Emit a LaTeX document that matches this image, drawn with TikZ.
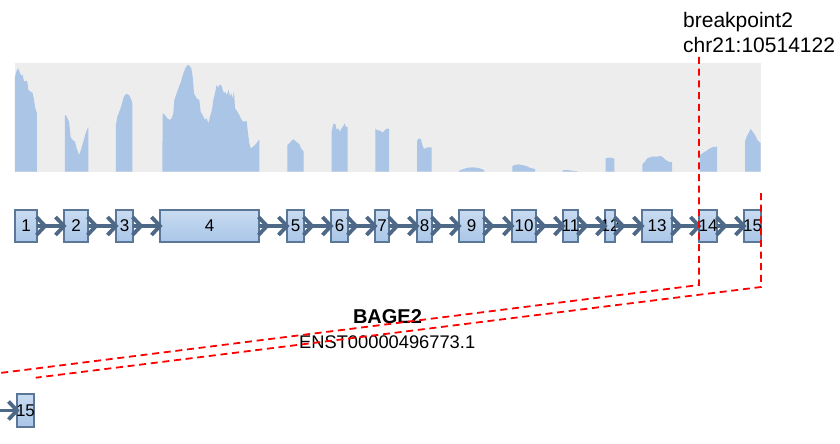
\documentclass[tikz,border=0pt]{standalone}
\usepackage{fontspec}
\setmainfont{Liberation Sans}
\usetikzlibrary{calc}
\definecolor{covbg}{HTML}{EDEDED}
\definecolor{covfill}{HTML}{AAC5E5}
\definecolor{intronc}{HTML}{4E6887}
\definecolor{exonborder}{HTML}{5A7797}
\definecolor{exontop}{HTML}{C9DCF1}
\definecolor{exonbot}{HTML}{A9C5E7}
\definecolor{bpred}{HTML}{FF0000}
\newcommand\exonbox[4]{\node[exon, minimum width=#3pt, label={[exlab]center:#4}] (#1) at (#2,226) {};}
\begin{document}
\begin{tikzpicture}[x=1pt,y=-1pt,
 exon/.style={draw=exonborder, line width=1.3pt, top color=exontop, bottom color=exonbot, minimum height=32pt, inner sep=0pt, outer sep=0pt},
 exlab/.style={font=\fontsize{17}{20}\selectfont, inner sep=0pt, text=black},
 intron/.style={draw=intronc, line width=3.2pt},
 chevline/.style={draw=intronc, line width=3.8pt, line join=miter, line cap=butt},
 chev/.pic={\draw[chevline] (-8.5,-9) -- (0,0) -- (-8.5,9);},
 bpline/.style={draw=bpred, line width=1.8pt, dash pattern=on 7pt off 4.7pt},
 cov/.style={fill=covfill, draw=none},
 lbl/.style={inner sep=0pt, text=black}
]
\useasboundingbox (0,0) rectangle (840,444);
% coverage background
\fill[covbg] (15,62.7) rectangle (760.7,171.7);
% coverage, zoom-1 coordinates
\begin{scope}[shift={(0,50)},scale=1/3]
\fill[cov] (45,365) -- (45,80) -- (50,62) -- (55,55) -- (60,70) -- (65,78) -- (68,75) -- (72,95) -- (78,92) -- (82,95) -- (85,120) -- (92,125) -- (98,130) -- (102,150) -- (106,175) -- (111,190) -- (111,365) -- cycle;
\fill[cov] (195,365) -- (195,195) -- (200,200) -- (207,215) -- (212,262) -- (218,270) -- (225,275) -- (230,295) -- (237,315) -- (243,300) -- (250,275) -- (257,250) -- (263,235) -- (265,232) -- (265,365) -- cycle;
\fill[cov] (348,365) -- (348,225) -- (352,200) -- (358,185) -- (365,165) -- (370,145) -- (375,135) -- (380,132) -- (387,135) -- (392,145) -- (397,158) -- (397,365) -- cycle;
\fill[cov] (487,365) -- (488,190) -- (495,195) -- (502,205) -- (510,210) -- (515,205) -- (520,190) -- (523,150) -- (530,130) -- (537,110) -- (543,95) -- (550,70) -- (556,55) -- (562,45) -- (568,47) -- (574,55) -- (578,80) -- (582,130) -- (590,145) -- (598,150) -- (602,185) -- (610,200) -- (615,210) -- (620,205) -- (625,220) -- (630,200) -- (636,180) -- (640,150) -- (645,130) -- (650,105) -- (655,112) -- (660,103) -- (665,108) -- (668,120) -- (672,130) -- (675,125) -- (680,135) -- (686,120) -- (690,140) -- (694,130) -- (698,145) -- (702,125) -- (705,175) -- (712,185) -- (718,195) -- (725,210) -- (730,215) -- (740,213) -- (744,250) -- (748,280) -- (752,295) -- (760,290) -- (770,280) -- (776,270) -- (778,270) -- (778,365) -- cycle;
\end{scope}
\begin{scope}[shift={(270,50)},scale=1/3]
\fill[cov] (52,365) -- (52,285) -- (58,280) -- (65,272) -- (70,268) -- (75,272) -- (82,278) -- (88,282) -- (93,295) -- (101,305) -- (101,365) -- cycle;
\fill[cov] (185,365) -- (185,245) -- (190,222) -- (196,222) -- (200,240) -- (205,235) -- (210,245) -- (215,235) -- (220,228) -- (224,220) -- (228,232) -- (233,230) -- (233,365) -- cycle;
\fill[cov] (316,365) -- (316,235) -- (320,240) -- (330,242) -- (338,248) -- (345,240) -- (352,235) -- (357,238) -- (357,365) -- cycle;
\fill[cov] (441,365) -- (441,272) -- (447,265) -- (453,268) -- (457,285) -- (462,297) -- (470,293) -- (478,292) -- (485,292) -- (485,365) -- cycle;
\fill[cov] (567,365) -- (567,362) -- (580,357) -- (595,353) -- (610,352) -- (625,354) -- (638,358) -- (643,362) -- (643,365) -- cycle;
\fill[cov] (727,365) -- (727,348) -- (735,345) -- (745,343) -- (755,345) -- (770,348) -- (778,353) -- (795,357) -- (795,365) -- cycle;
\end{scope}
\begin{scope}[shift={(540,0)},scale=1/3]
\fill[cov] (68,515) -- (68,511) -- (80,510) -- (95,512) -- (113,514) -- (113,515) -- cycle;
\fill[cov] (197,515) -- (197,474) -- (210,473) -- (223,476) -- (223,515) -- cycle;
\fill[cov] (307,515) -- (307,493) -- (315,485) -- (322,475) -- (335,470) -- (350,470) -- (360,468) -- (367,470) -- (375,478) -- (385,485) -- (396,487) -- (396,515) -- cycle;
\fill[cov] (480,515) -- (480,465) -- (490,458) -- (500,452) -- (510,445) -- (520,441) -- (531,440) -- (531,515) -- cycle;
\fill[cov] (615,515) -- (615,425) -- (620,410) -- (628,395) -- (632,387) -- (638,395) -- (645,405) -- (652,420) -- (660,428) -- (662,430) -- (662,515) -- cycle;
\end{scope}
% exons
\exonbox{e1}{26}{22}{1}
\exonbox{e2}{76}{24}{2}
\exonbox{e3}{124.5}{17}{3}
\exonbox{e4}{209.5}{99}{4}
\exonbox{e5}{295.5}{17}{5}
\exonbox{e6}{339.5}{17}{6}
\exonbox{e7}{382}{14}{7}
\exonbox{e8}{424.5}{15}{8}
\exonbox{e9}{471.5}{25}{9}
\exonbox{e10}{524}{24}{10}
\exonbox{e11}{570.5}{15}{11}
\exonbox{e12}{610}{10}{12}
\exonbox{e13}{657}{30}{13}
\exonbox{e14}{708}{18}{14}
\exonbox{e15}{752.5}{17}{15}
% introns
\foreach \a/\b in {e1/e2,e2/e3,e3/e4,e4/e5,e5/e6,e6/e7,e7/e8,e8/e9,e9/e10,e10/e11,e11/e12,e12/e13,e13/e14,e14/e15}{
  \draw[intron] (\a.east) -- (\b.west);
  \pic at ($(\a.east)+(8,0)$) {chev};
  \pic at ($(\b.west)+(0,0)$) {chev};
}
% bottom transcript part
\node[exon, minimum width=17pt, minimum height=33pt, label={[exlab]center:15}] (b15) at (25.5,410.5) {};
\coordinate (bstart) at (0,410.5);
\draw[intron] (bstart) -- (b15.west);
\pic at ($(b15.west)+(0,0)$) {chev};
% labels
\node[lbl, anchor=base west, font=\fontsize{21}{25}\selectfont] (bpt1) at (683,27.7) {breakpoint2};
\node[lbl, anchor=base west, font=\fontsize{21}{25}\selectfont] (bpt2) at (683,52.5) {chr21:10514122};
\node[lbl, anchor=base, font=\bfseries\fontsize{20}{24}\selectfont] (gname) at (387.5,323.3) {BAGE2};
\node[lbl, anchor=base, font=\fontsize{18.3}{22}\selectfont] (tname) at (387.2,348.3) {ENST00000496773.1};
% breakpoint lines
\coordinate (bpA) at (699,57);
\coordinate (bpAc) at (699,285);
\coordinate (bpAe) at (0,373);
\coordinate (bpB) at (761,193);
\coordinate (bpBc) at (761,287);
\coordinate (bpBe) at (35.7,377.7);
\draw[bpline] (bpA) -- (bpAc) -- (bpAe);
\draw[bpline] (bpB) -- (bpBc) -- (bpBe);
\end{tikzpicture}
\end{document}
